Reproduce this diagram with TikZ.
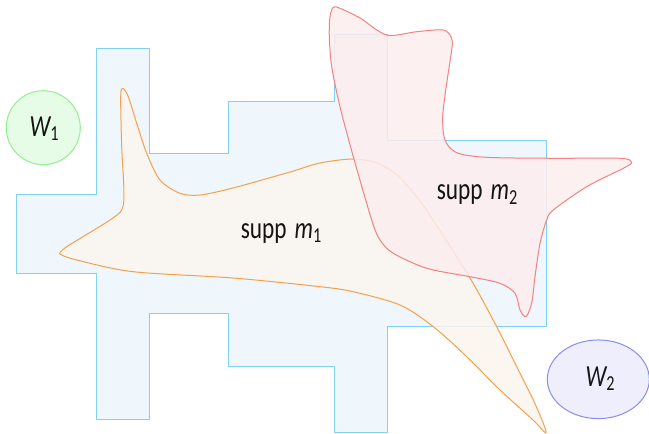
\documentclass[tikz,border=0pt]{standalone}
\usepackage{fontspec}
\usetikzlibrary{shapes.geometric}
\newfontfamily\lab[FakeStretch=0.76]{Carlito}
\newcommand{\sbx}[1]{\raisebox{-0.14em}{\fontsize{16}{16}\selectfont #1}}
\definecolor{blueline}{HTML}{80D2F4}
\definecolor{bluefill}{HTML}{EFF7FC}
\definecolor{orline}{HTML}{F5A04A}
\definecolor{orfill}{HTML}{FBF5EE}
\definecolor{redline}{HTML}{F08282}
\definecolor{redfill}{HTML}{FCEDEE}
\definecolor{gline}{HTML}{92EE92}
\definecolor{gfill}{HTML}{E6FCE6}
\definecolor{pline}{HTML}{8C8CF0}
\definecolor{pfill}{HTML}{EEEEFC}
\tikzset{
  region/.style={line width=0.75pt, line join=round},
  txt/.style={inner sep=0pt, anchor=base, font=\lab\fontsize{23}{23}\selectfont, text=black!92},
}
\begin{document}
\begin{tikzpicture}[x=0.75pt,y=-0.75pt]
\useasboundingbox (0,0) rectangle (649,434);
% blue polygon
\draw[region, draw=blueline, fill=bluefill]
  (96.3,48.3) -- (149.3,48.3) -- (149.3,154) -- (228.3,154) -- (228.3,101.3)
  -- (334.3,101.3) -- (334.3,35) -- (387.7,35) -- (387.7,141) -- (546.7,141)
  -- (546.7,326.7) -- (387.7,326.7) -- (387.7,432.3) -- (334.3,432.3)
  -- (334.3,366) -- (228.3,366) -- (228.3,313.7) -- (149.3,313.7)
  -- (149.3,419.3) -- (96.3,419.3) -- (96.3,274) -- (16.7,274)
  -- (16.7,194.3) -- (96.3,194.3) -- cycle;
% orange region
\draw[region, draw=orline, fill=orfill, fill opacity=0.85]
  plot[smooth cycle, tension=0.5] coordinates {
  (122.7,88.3) (128.3,96.7) (136.7,123.3) (146.7,153.3) (160,180) (180,193.3)
  (200,195) (233,188)
  (290,172) (320,163) (353,159) (377,163) (397,175) (417,197) (433,220)
  (470,278) (496.7,326.7) (516.7,366.7) (533.3,400) (543.3,423.3) (545.7,433)
  (533,420) (500,390) (466.7,356.7) (433.3,326.7) (400,305) (353,291.7)
  (320,286.7) (233,278) (133,271.7) (76.7,260) (61.7,255) (60,252.7)
  (66.7,246.7) (83,236.7) (110,220) (121.7,210) (124,193) (121.7,146.7)
  (120.7,96.7)};
% red region
\draw[region, draw=redline, fill=redfill, fill opacity=0.85]
  plot[smooth cycle, tension=0.5] coordinates {
  (333.3,7.3) (340,8.3) (360,18) (386.7,35) (416.7,31.7) (443.3,30)
  (451.7,38.3) (451.7,50) (446.7,83.3) (442.7,116.7) (445,140) (456.7,152.7)
  (486.7,157.3) (553.3,158.3) (620,158.3) (631.7,162.3) (623.3,168.3)
  (586.7,186.7) (553.3,210) (546.7,220) (540,243.3) (535,276.7) (531.7,303)
  (526,316.7) (520,310) (515,293.3) (500,283.3) (470,276.7) (426.7,268.3)
  (393.3,253.3) (380,240) (371.7,220) (353.3,156.7) (340,106.7)
  (331.7,66.7) (329.3,36.7) (330,16.7)};
% W nodes
\node[circle, draw=gline, fill=gfill, line width=0.75pt, minimum size=55.5pt, inner sep=0pt] (w1) at (43.3,127.7) {};
\node[ellipse, draw=pline, fill=pfill, line width=0.75pt, minimum width=76.5pt, minimum height=59pt, inner sep=0pt] (w2) at (598.3,379.3) {};
% labels
\node[txt] (l1) at (44,136.7) {\itshape W\sbx{\upshape 1}};
\node[txt] (l2) at (600,386.7) {\itshape W\sbx{\upshape 2}};
\node[txt] (s1) at (281,238.3) {supp\hspace{6pt}{\itshape m}\sbx{1}};
\node[txt] (s2) at (477,200) {supp\hspace{6pt}{\itshape m}\sbx{2}};
\end{tikzpicture}
\end{document}
